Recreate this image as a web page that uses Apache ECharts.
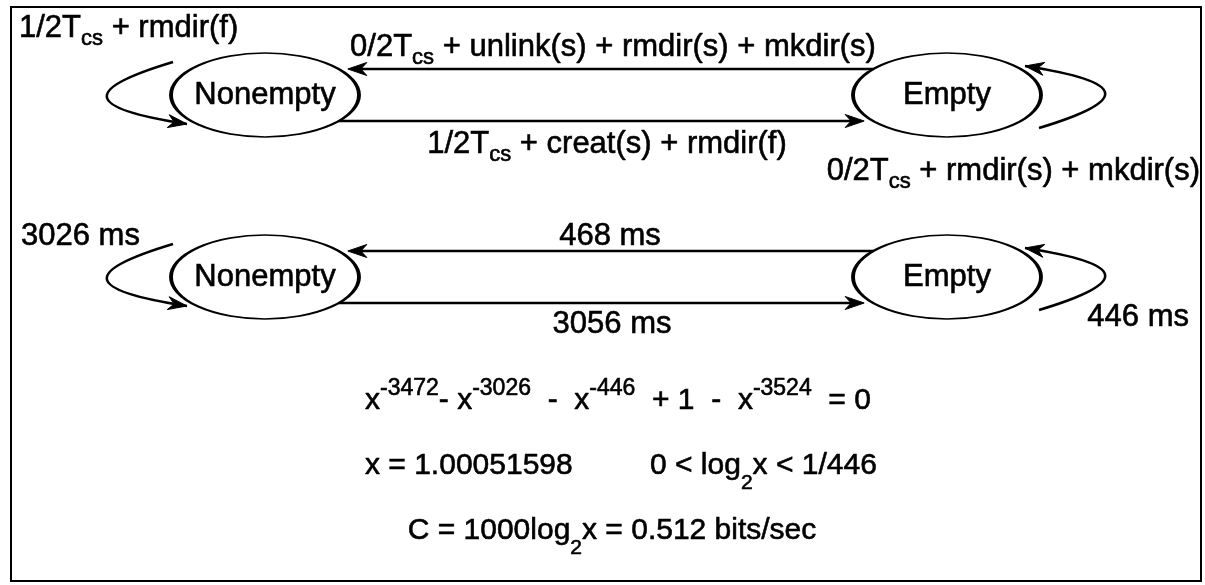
<!DOCTYPE html>
<html><head><meta charset="utf-8">
<script src="https://cdn.jsdelivr.net/npm/echarts@6/dist/echarts.min.js"></script>
<style>html,body{margin:0;padding:0;background:#fff}#main{width:1205px;height:585px}</style>
</head><body><div id="main"></div>
<script>
// ---------------- content (values) ----------------
const states = ['Nonempty', 'Empty'];
const transitions = [['Nonempty', 'Nonempty'], ['Empty', 'Nonempty'], ['Nonempty', 'Empty'], ['Empty', 'Empty']];
const symbolicCosts = [
  '1/2T_{cs} + rmdir(f)',
  '0/2T_{cs} + unlink(s) + rmdir(s) + mkdir(s)',
  '1/2T_{cs} + creat(s) + rmdir(f)',
  '0/2T_{cs} + rmdir(s) + mkdir(s)'
];
const measuredMs = [3026, 468, 3056, 446];
const equationLines = [
  ['x^{-3472}- x^{-3026}  -  x^{-446}  + 1  -  x^{-3524}  = 0'],
  ['x = 1.00051598', '0 < log_{2}x < 1/446'],
  ['C = 1000log_{2}x = 0.512 bits/sec']
];

// ---------------- layout (diagram units = pixels) ----------------
const layout = {
  frame: { left: 11, top: 7, right: 1201, bottom: 581 },
  stateX: [265, 947],
  rowY: [95, 277],
  ellipse: { rx: 94, ry: 42 },
  edgeOffset: 26,
  arrowGap: 9,
  loop: [[-92, -33], [-182, -6], [-183, 13], [-78, 29]],
  labels: [
    [[19, 38, 'left'], [613, 57, 'center'], [607, 154, 'center'], [1200, 181, 'right']],
    [[21, 246, 'left'], [610, 246, 'center'], [612, 334, 'center'], [1189, 327, 'right']]
  ],
  equations: [[[365, 411, 'left']], [[365, 476, 'left'], [650, 476, 'left']], [[612, 541, 'center']]]
};

const FONT = 'Liberation Sans, Arial, Helvetica, sans-serif';
const INK = '#000';
const HEAVY = { stroke: INK, lineWidth: 0.6 };

function toRich(s) {
  let out = '', buf = '', i = 0;
  const flush = () => { if (buf) { out += '{n|' + buf + '}'; buf = ''; } };
  while (i < s.length) {
    const c = s[i];
    if ((c === '_' || c === '^') && s[i + 1] === '{') {
      const j = s.indexOf('}', i + 2);
      flush();
      out += '{' + (c === '_' ? 'sub' : 'sup') + '|' + s.slice(i + 2, j) + '}';
      i = j + 1;
    } else { buf += c; i++; }
  }
  flush();
  return out;
}

function tok(size, lh, va, h) {
  const s = Object.assign({ fontSize: size, lineHeight: lh, verticalAlign: va, fontFamily: FONT, fill: INK }, HEAVY);
  if (h) s.height = h;
  return s;
}
const LABEL_LH = 44, EQ_LH = 56;
const labelRich = { n: tok(31, LABEL_LH, 'middle'), sub: tok(22, 10, 'bottom'), sup: tok(22, 10, 'top') };
const eqRich = { n: tok(30, EQ_LH, 'middle'), sub: tok(21, 10, 'bottom'), sup: tok(23, 10, 'top', 32) };

function textEl(api, anchor, text, rich, lh) {
  const p = api.coord([anchor[0], anchor[1] - 10]);
  return {
    type: 'text', x: p[0], y: p[1],
    style: Object.assign({ text: toRich(text), rich: rich, fontSize: 30, lineHeight: lh, fontFamily: FONT, fill: INK,
             align: anchor[2], verticalAlign: 'middle' }, HEAVY)
  };
}

function arrowHead(tip, from) {
  let ux = tip[0] - from[0], uy = tip[1] - from[1];
  const len = Math.hypot(ux, uy); ux /= len; uy /= len;
  const nx = -uy, ny = ux, L = 19, W = 6.5, N = 13;
  return {
    type: 'polygon',
    shape: { points: [
      tip,
      [tip[0] - ux * L + nx * W, tip[1] - uy * L + ny * W],
      [tip[0] - ux * N, tip[1] - uy * N],
      [tip[0] - ux * L - nx * W, tip[1] - uy * L - ny * W]
    ] },
    style: { fill: INK, stroke: INK, lineWidth: 1 }
  };
}

function renderEdge(params, api) {
  const row = api.value(0), t = api.value(1);
  const a = states.indexOf(transitions[t][0]);
  const b = states.indexOf(transitions[t][1]);
  const cy = layout.rowY[row];
  const { rx, ry } = layout.ellipse;
  const stroke = { stroke: INK, lineWidth: 2.6, fill: null };
  const children = [];
  if (a === b) {
    const sgn = a === 0 ? 1 : -1;
    const pts = layout.loop.map(([dx, dy]) => api.coord([layout.stateX[a] + sgn * dx, cy + sgn * dy]));
    children.push({
      type: 'bezierCurve',
      shape: { x1: pts[0][0], y1: pts[0][1], cpx1: pts[1][0], cpy1: pts[1][1],
               cpx2: pts[2][0], cpy2: pts[2][1], x2: pts[3][0], y2: pts[3][1] },
      style: stroke
    });
    children.push(arrowHead(pts[3], pts[2]));
  } else {
    const dir = layout.stateX[b] > layout.stateX[a] ? 1 : -1;
    const dy = dir > 0 ? layout.edgeOffset : -layout.edgeOffset;
    const half = rx * Math.sqrt(1 - (dy / ry) * (dy / ry));
    const p0 = api.coord([layout.stateX[a] + dir * half, cy + dy]);
    const p1 = api.coord([layout.stateX[b] - dir * (half + layout.arrowGap), cy + dy]);
    const pEnd = api.coord([layout.stateX[b] - dir * (half + layout.arrowGap + 12), cy + dy]);
    children.push({ type: 'line', shape: { x1: p0[0], y1: p0[1], x2: pEnd[0], y2: pEnd[1] }, style: stroke });
    children.push(arrowHead(p1, p0));
  }
  const text = row === 0 ? symbolicCosts[t] : measuredMs[t] + ' ms';
  children.push(textEl(api, layout.labels[row][t], text, labelRich, LABEL_LH));
  return { type: 'group', children };
}

function renderEquation(params, api) {
  const li = api.value(0), pi = api.value(1);
  return textEl(api, layout.equations[li][pi], equationLines[li][pi], eqRich, EQ_LH);
}

const stateData = [];
layout.rowY.forEach((y) => states.forEach((s, i) => stateData.push({ name: s, value: [layout.stateX[i], y] })));
const edgeData = [];
layout.rowY.forEach((y, r) => transitions.forEach((tr, t) => edgeData.push([r, t])));
const eqData = [];
equationLines.forEach((line, li) => line.forEach((_, pi) => eqData.push([li, pi])));

const F = layout.frame;
const chart = echarts.init(document.getElementById('main'), null, { renderer: 'canvas' });
chart.setOption({
  animation: false,
  backgroundColor: '#fff',
  grid: { left: F.left, top: F.top, right: 1205 - F.right, bottom: 585 - F.bottom,
          show: true, borderColor: INK, borderWidth: 2, backgroundColor: 'transparent' },
  xAxis: { type: 'value', min: F.left, max: F.right, show: false },
  yAxis: { type: 'value', min: F.top, max: F.bottom, inverse: true, show: false },
  series: [
    { type: 'custom', name: 'transitions', renderItem: renderEdge, data: edgeData, silent: true, z: 2 },
    { type: 'scatter', name: 'states', data: stateData, symbol: 'circle',
      symbolSize: [2 * layout.ellipse.rx, 2 * layout.ellipse.ry], silent: true, z: 3,
      itemStyle: { color: '#fff', borderColor: INK, borderWidth: 2.6, opacity: 1 },
      label: { show: true, position: 'inside', formatter: '{b}', fontSize: 31, color: INK, fontFamily: FONT,
               textBorderColor: INK, textBorderWidth: 0.6 },
      emphasis: { disabled: true } },
    { type: 'custom', name: 'equations', renderItem: renderEquation, data: eqData, silent: true, z: 4 }
  ]
});
</script>
</body></html>
